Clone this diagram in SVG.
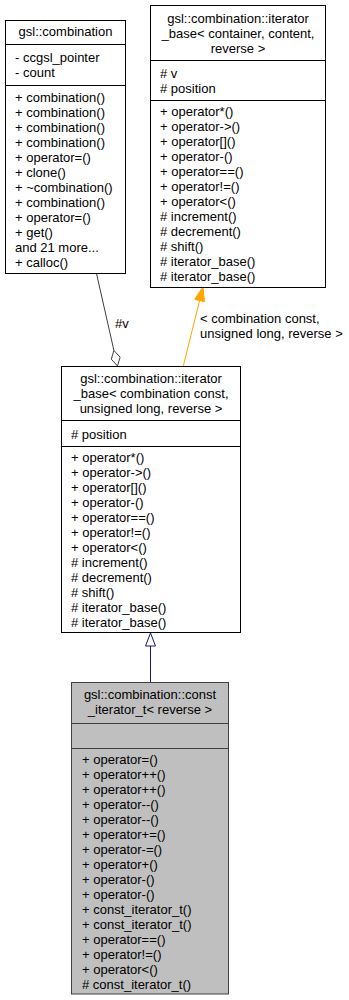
<svg xmlns="http://www.w3.org/2000/svg" width="349" height="1000" viewBox="0 0 349 1000">
<style>
text { font-family: "Liberation Sans", Arial, Helvetica, sans-serif; font-size: 13px; fill: #000; }
.box { fill: #fff; stroke: #000; stroke-width: 1; }
.focus { fill: #bfbfbf; stroke: #404040; stroke-width: 1; }
.sep { stroke: #000; stroke-width: 1; }
.fsep { stroke: #404040; stroke-width: 1; }
.c { text-anchor: middle; }
.assoc { stroke: #404040; stroke-width: 1; fill: none; }
.tmpl { stroke: #ffa500; stroke-width: 1; fill: none; }
.inh { stroke: #191970; stroke-width: 1; fill: none; }
</style>
<rect width="349" height="1000" fill="#fff"/>

<g id="connectors">
  <path class="assoc" d="M96.5,273.5 L113.9,350.4"/>
  <polygon points="117.5,366 120.1,357.2 113.9,350.4 111.3,359.2" fill="#fff" stroke="#404040" stroke-width="1"/>
  <text x="115" y="328">#v</text>
  <path class="tmpl" d="M183.3,366 L199.6,300.6"/>
  <polygon points="203,287 204.4,301.8 194.7,299.3" fill="#ffa500" stroke="#ffa500" stroke-width="1"/>
  <text x="200" y="323">&lt; combination const,</text>
  <text x="200" y="337.5">unsigned long, reverse &gt;</text>
  <path class="inh" d="M150.5,682.5 L150.5,646"/>
  <polygon points="150.5,633 155.5,646 145.5,646" fill="#fff" stroke="#191970" stroke-width="1"/>
</g>

<g id="node-combination">
  <rect class="box" x="5.5" y="20.5" width="120" height="253"/>
  <line class="sep" x1="5.5" y1="44.5" x2="125.5" y2="44.5"/>
  <line class="sep" x1="5.5" y1="85.5" x2="125.5" y2="85.5"/>
  <text class="c" x="65.5" y="36">gsl::combination</text>
  <text x="15" y="62">- ccgsl_pointer</text>
  <text x="15" y="77">- count</text>
  <text x="15" y="102">+ combination()</text>
  <text x="15" y="117">+ combination()</text>
  <text x="15" y="132">+ combination()</text>
  <text x="15" y="147">+ combination()</text>
  <text x="15" y="162">+ operator=()</text>
  <text x="15" y="177">+ clone()</text>
  <text x="15" y="192">+ ~combination()</text>
  <text x="15" y="207">+ combination()</text>
  <text x="15" y="222">+ operator=()</text>
  <text x="15" y="237">+ get()</text>
  <text x="15" y="252">and 21 more...</text>
  <text x="15" y="267">+ calloc()</text>
</g>

<g id="node-iterator-base">
  <rect class="box" x="150.5" y="5.5" width="175" height="282"/>
  <line class="sep" x1="150.5" y1="60.5" x2="325.5" y2="60.5"/>
  <line class="sep" x1="150.5" y1="100.5" x2="325.5" y2="100.5"/>
  <text class="c" x="238" y="23">gsl::combination::iterator</text>
  <text class="c" x="238" y="38">_base&lt; container, content,</text>
  <text class="c" x="238" y="53">reverse &gt;</text>
  <text x="160" y="78"># v</text>
  <text x="160" y="93"># position</text>
  <text x="160" y="116">+ operator*()</text>
  <text x="160" y="131">+ operator-&gt;()</text>
  <text x="160" y="146">+ operator[]()</text>
  <text x="160" y="161">+ operator-()</text>
  <text x="160" y="176">+ operator==()</text>
  <text x="160" y="191">+ operator!=()</text>
  <text x="160" y="206">+ operator&lt;()</text>
  <text x="160" y="221"># increment()</text>
  <text x="160" y="236"># decrement()</text>
  <text x="160" y="251"># shift()</text>
  <text x="160" y="266"># iterator_base()</text>
  <text x="160" y="281"># iterator_base()</text>
</g>

<g id="node-iterator-base-const">
  <rect class="box" x="61.5" y="366.5" width="179" height="266"/>
  <line class="sep" x1="61.5" y1="420.5" x2="240.5" y2="420.5"/>
  <line class="sep" x1="61.5" y1="446.5" x2="240.5" y2="446.5"/>
  <text class="c" x="151" y="383">gsl::combination::iterator</text>
  <text class="c" x="151" y="398">_base&lt; combination const,</text>
  <text class="c" x="151" y="413">unsigned long, reverse &gt;</text>
  <text x="71" y="439"># position</text>
  <text x="71" y="462">+ operator*()</text>
  <text x="71" y="477">+ operator-&gt;()</text>
  <text x="71" y="492">+ operator[]()</text>
  <text x="71" y="507">+ operator-()</text>
  <text x="71" y="522">+ operator==()</text>
  <text x="71" y="537">+ operator!=()</text>
  <text x="71" y="552">+ operator&lt;()</text>
  <text x="71" y="567"># increment()</text>
  <text x="71" y="582"># decrement()</text>
  <text x="71" y="597"># shift()</text>
  <text x="71" y="612"># iterator_base()</text>
  <text x="71" y="627"># iterator_base()</text>
</g>

<g id="node-const-iterator">
  <rect class="focus" x="71.5" y="682.5" width="157" height="311.5"/>
  <line class="fsep" x1="71.5" y1="723.5" x2="228.5" y2="723.5"/>
  <line class="fsep" x1="71.5" y1="748.5" x2="228.5" y2="748.5"/>
  <text class="c" x="150" y="699">gsl::combination::const</text>
  <text class="c" x="150" y="714">_iterator_t&lt; reverse &gt;</text>
  <text x="82" y="764">+ operator=()</text>
  <text x="82" y="779">+ operator++()</text>
  <text x="82" y="794">+ operator++()</text>
  <text x="82" y="809">+ operator--()</text>
  <text x="82" y="824">+ operator--()</text>
  <text x="82" y="839">+ operator+=()</text>
  <text x="82" y="854">+ operator-=()</text>
  <text x="82" y="869">+ operator+()</text>
  <text x="82" y="884">+ operator-()</text>
  <text x="82" y="899">+ operator-()</text>
  <text x="82" y="914">+ const_iterator_t()</text>
  <text x="82" y="929">+ const_iterator_t()</text>
  <text x="82" y="944">+ operator==()</text>
  <text x="82" y="959">+ operator!=()</text>
  <text x="82" y="974">+ operator&lt;()</text>
  <text x="82" y="989"># const_iterator_t()</text>
</g>
</svg>
